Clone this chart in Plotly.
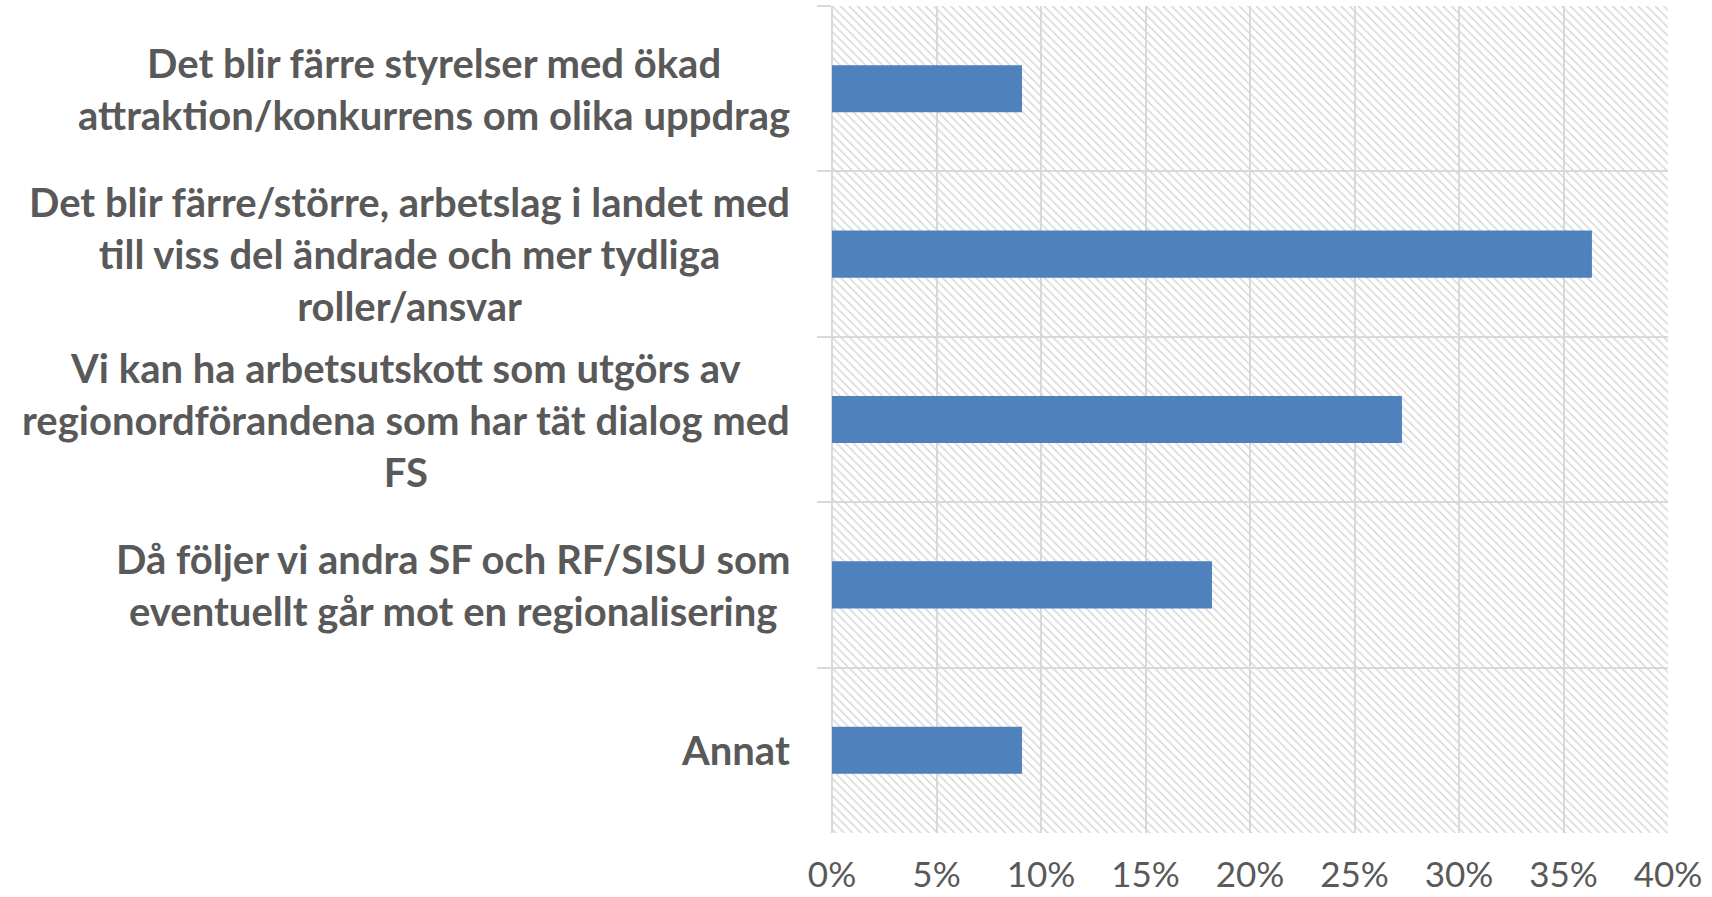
import plotly.graph_objects as go

categories = [
    "Det blir färre styrelser med ökad<br>attraktion/konkurrens om olika uppdrag",
    "Det blir färre/större, arbetslag i landet med<br>till viss del ändrade och mer tydliga<br>roller/ansvar",
    "Vi kan ha arbetsutskott som utgörs av<br>regionordförandena som har tät dialog med<br>FS",
    "Då följer vi andra SF och RF/SISU som<br>eventuellt går mot en regionalisering",
    "Annat",
]
values = [0.0909, 0.3636, 0.2727, 0.1818, 0.0909]
x_range = [0, 0.40]
tick_step = 0.05

TEXT = "#595959"
GRID = "#d9d9d9"

fig = go.Figure()

# hatched plot-area background
fig.add_trace(go.Bar(
    y=categories, x=[x_range[1]] * len(categories), orientation="h",
    width=1, hoverinfo="skip", showlegend=False,
    marker=dict(color="rgba(0,0,0,0)", line=dict(width=0),
                pattern=dict(shape="\\", fgcolor="#d6d6d6", bgcolor="rgba(0,0,0,0)",
                             size=6, solidity=0.25, fillmode="replace")),
))

fig.add_trace(go.Bar(
    y=categories, x=values, orientation="h", width=0.285,
    marker=dict(color="#4f81bd", line=dict(width=0)), showlegend=False,
))

for c in categories:
    fig.add_annotation(
        x=0, xref="paper", y=c, yref="y", xanchor="right", xshift=-40,
        text="<b>" + c + "</b>", showarrow=False, align="center",
        font=dict(family="Lato", size=40, color=TEXT),
    )

fig.update_layout(
    width=1712, height=897,
    margin=dict(l=832, r=44, t=6, b=64),
    paper_bgcolor="white", plot_bgcolor="white",
    barmode="overlay",
    font=dict(family="Lato", color=TEXT),
)
fig.update_xaxes(
    range=x_range, dtick=tick_step, tick0=0, tickformat=".0%",
    showgrid=True, gridcolor=GRID, gridwidth=1.5,
    zeroline=True, zerolinecolor=GRID, zerolinewidth=1.5,
    showline=False, ticks="", automargin=False, ticklabelstandoff=18,
    tickfont=dict(family="Lato", size=35, color=TEXT),
)
fig.update_yaxes(
    categoryorder="array", categoryarray=categories, autorange="reversed",
    tickson="boundaries", ticks="outside", ticklen=14, tickcolor=GRID, tickwidth=1.5,
    showgrid=True, gridcolor=GRID, gridwidth=1.5, automargin=False,
    showticklabels=False, showline=False, zeroline=False,
)

fig.write_html(
    "out.html",
    config={"displayModeBar": False},
    post_script="document.body.style.margin='0';document.body.style.overflow='hidden';",
)
